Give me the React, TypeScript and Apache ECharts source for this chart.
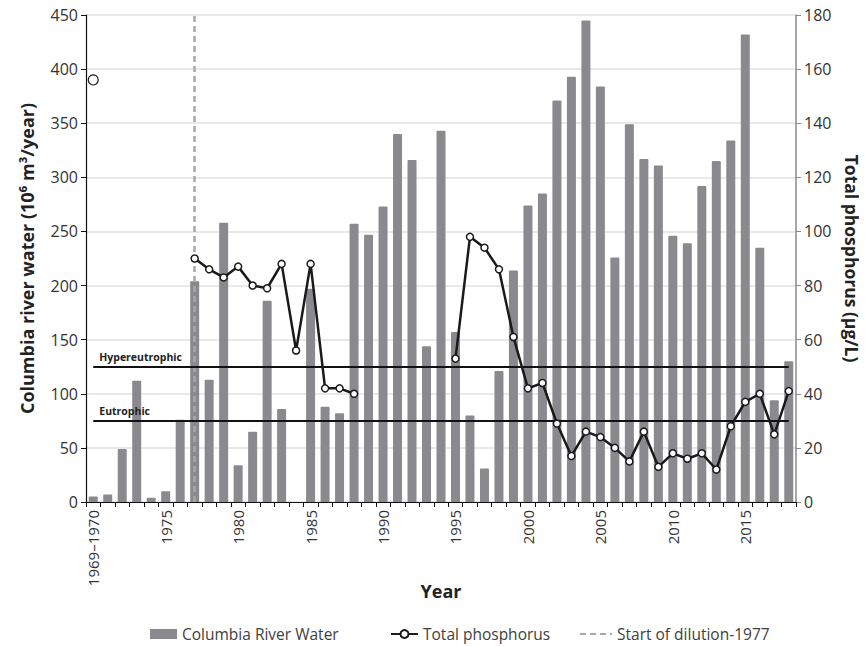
import React, { useEffect, useRef } from "react";
import * as echarts from "echarts";

const years: string[] = [
  "1969–1970","1971","1972","1973","1974","1975","1976","1977","1978","1979",
  "1980","1981","1982","1983","1984","1985","1986","1987","1988","1989",
  "1990","1991","1992","1993","1994","1995","1996","1997","1998","1999",
  "2000","2001","2002","2003","2004","2005","2006","2007","2008","2009",
  "2010","2011","2012","2013","2014","2015","2016","2017","2018",
];

const riverWater: number[] = [
  5, 7, 49, 112, 4, 10, 76, 204, 113, 258,
  34, 65, 186, 86, 0, 197, 88, 82, 257, 247,
  273, 340, 316, 144, 343, 157, 80, 31, 121, 214,
  274, 285, 371, 393, 445, 384, 226, 349, 317, 311,
  246, 239, 292, 315, 334, 432, 235, 94, 130,
];

const phosphorus: (number | null)[] = [
  156, null, null, null, null, null, null, 90, 86, 83,
  87, 80, 79, 88, 56, 88, 42, 42, 40, null,
  null, null, null, null, null, 53, 98, 94, 86, 61,
  42, 44, 29, 17, 26, 24, 20, 15, 26, 13,
  18, 16, 18, 12, 28, 37, 40, 25, 41,
];

const leftTicks = { min: 0, max: 450, interval: 50 };
const rightTicks = { min: 0, max: 180, interval: 20 };
const hypereutrophic = 50;
const eutrophic = 30;
const dilutionYear = "1977";

const FONT = "Open Sans";

export default function App() {
  const ref = useRef<HTMLDivElement>(null);
  useEffect(() => {
    if (!ref.current) return;
    const chart = echarts.init(ref.current, undefined, { renderer: "svg" });
    const first = years[0];
    const last = years[years.length - 1];
    const thresholdLabel = (text: string) => ({
      show: true,
      position: "insideStartTop" as const,
      formatter: text,
      fontFamily: FONT,
      fontWeight: "bold" as const,
      fontSize: 10.5,
      color: "#222",
      distance: [6, 4],
    });
    const legendBase = {
      top: 621,
      itemWidth: 27,
      itemHeight: 10,
      textStyle: { fontFamily: FONT, fontSize: 15.5, color: "#404040" },
    };
    chart.setOption({
      animation: false,
      textStyle: { fontFamily: FONT },
      grid: {
        left: 86,
        right: 71,
        top: 15,
        bottom: 144,
        containLabel: false,
        outerBoundsMode: "none",
      },
      legend: [
        { ...legendBase, left: 145, data: [{ name: "Columbia River Water", icon: "rect" }] },
        { ...legendBase, left: 385, data: [{ name: "Total phosphorus" }] },
        {
          ...legendBase,
          left: 574,
          itemWidth: 32,
          data: [{ name: "Start of dilution-1977", itemStyle: { opacity: 0 } }],
        },
      ],
      xAxis: {
        type: "category",
        data: years,
        name: "Year",
        nameLocation: "middle",
        nameGap: 80,
        nameMoveOverlap: false,
        nameTextStyle: { fontFamily: FONT, fontWeight: "bold", fontSize: 18, color: "#222" },
        boundaryGap: true,
        axisLine: { lineStyle: { color: "#111", width: 1.2 } },
        axisTick: { show: true, interval: 0, length: 5, lineStyle: { color: "#111" } },
        axisLabel: {
          interval: 4,
          rotate: 90,
          fontFamily: FONT,
          fontSize: 15,
          color: "#333",
          margin: 8,
        },
        splitLine: { show: false },
      },
      yAxis: [
        {
          type: "value",
          ...leftTicks,
          name: "Columbia river water (10⁶ m³/year)",
          nameLocation: "middle",
          nameRotate: 90,
          nameGap: 50,
          nameTextStyle: { fontFamily: FONT, fontWeight: "bold", fontSize: 18, color: "#222" },
          axisLine: { show: true, lineStyle: { color: "#111", width: 1.2 } },
          axisTick: { show: true, length: 5, lineStyle: { color: "#111" } },
          axisLabel: { fontFamily: FONT, fontSize: 16, color: "#333", margin: 8 },
          splitLine: { show: true, lineStyle: { color: "#e2e2e2", width: 1.5 } },
        },
        {
          type: "value",
          ...rightTicks,
          position: "right",
          name: "Total phosphorus (µg/L)",
          nameLocation: "middle",
          nameRotate: -90,
          nameGap: 47,
          nameTextStyle: { fontFamily: FONT, fontWeight: "bold", fontSize: 17.5, color: "#222" },
          axisLine: { show: true, lineStyle: { color: "#8a8a8a", width: 1.5 } },
          axisTick: { show: true, length: 5, lineStyle: { color: "#8a8a8a" } },
          axisLabel: { fontFamily: FONT, fontSize: 16, color: "#333", margin: 8 },
          splitLine: { show: false },
        },
      ],
      series: [
        {
          name: "Columbia River Water",
          type: "bar",
          yAxisIndex: 0,
          data: riverWater,
          barWidth: 9,
          itemStyle: { color: "#8a8a8e", borderRadius: [1, 1, 0, 0] },
          z: 2,
        },
        {
          name: "Start of dilution-1977",
          type: "line",
          yAxisIndex: 0,
          data: [],
          symbol: "none",
          lineStyle: { type: [6, 4], color: "#a8a8a8", width: 2.5 },
          itemStyle: { color: "#a8a8a8" },
          z: 4,
          markLine: {
            silent: true,
            symbol: "none",
            label: { show: false },
            lineStyle: { type: [6, 4], color: "#a8a8a8", width: 2.5 },
            data: [{ xAxis: dilutionYear }],
          },
        },
        {
          name: "Total phosphorus",
          type: "line",
          yAxisIndex: 1,
          data: phosphorus.map((v, i) =>
            i === 0 && v !== null
              ? { value: v, symbolSize: 10, itemStyle: { borderWidth: 1.2 } }
              : v
          ),
          connectNulls: false,
          showAllSymbol: true,
          symbol: "circle",
          symbolSize: 7,
          lineStyle: { color: "#1a1a1a", width: 2.5 },
          itemStyle: { color: "#ffffff", borderColor: "#1a1a1a", borderWidth: 1.5 },
          z: 6,
          markLine: {
            silent: true,
            symbol: "none",
            lineStyle: { type: "solid", color: "#111", width: 1.8 },
            data: [
              [
                { coord: [first, hypereutrophic], label: thresholdLabel("Hypereutrophic") },
                { coord: [last, hypereutrophic] },
              ],
              [
                { coord: [first, eutrophic], label: thresholdLabel("Eutrophic") },
                { coord: [last, eutrophic] },
              ],
            ],
          },
        },
      ],
    });
    return () => chart.dispose();
  }, []);
  return <div ref={ref} style={{ width: 867, height: 646, marginLeft: -8, marginTop: -8 }} />;
}
